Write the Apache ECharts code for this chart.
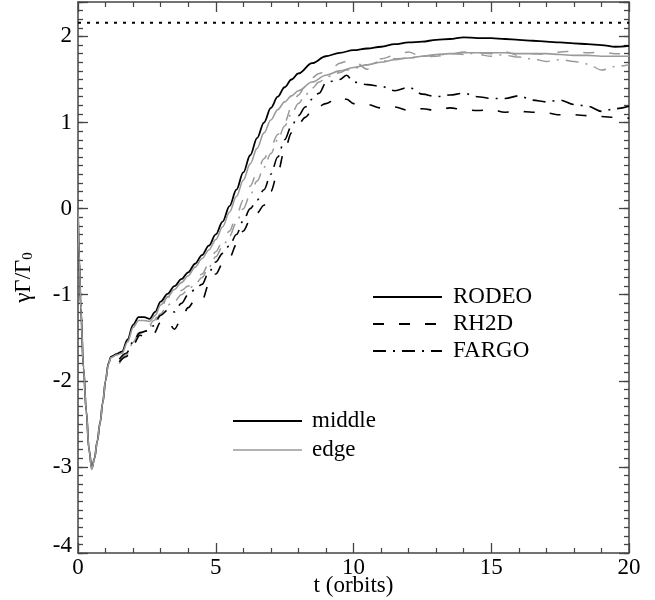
<!DOCTYPE html>
<html>
<head>
<meta charset="utf-8">
<script src="https://cdn.jsdelivr.net/npm/echarts@6/dist/echarts.min.js"></script>
<style>html,body{margin:0;padding:0;background:#fff}#c{width:655px;height:600px}</style>
</head>
<body>
<div id="c"></div>
<script>
// ---- data ----
var tRodeo = [0,0.05,0.1,0.2,0.3,0.4,0.5,0.6,0.7,0.8,0.9,1.0,1.1,1.2,1.4,1.6,1.8,2.0,2.2,2.4,2.6,2.8,3.0,3.25,3.5,3.75,4.0,4.25,4.5,4.75,5.0,5.25,5.5,5.75,6.0,6.25,6.5,6.75,7.0,7.25,7.5,7.75,8.0,8.5,9.0,9.5,10,10.5,11,11.5,12,12.5,13,13.5,14,14.5,15,15.5,16,16.5,17,17.5,18,18.5,19,19.5,20];
var rodeoMiddle = [0.0,-0.6,-1.15,-1.85,-2.35,-2.8,-3.02,-2.9,-2.7,-2.49,-2.25,-2.0,-1.8,-1.72,-1.69,-1.66,-1.52,-1.35,-1.26,-1.26,-1.28,-1.2,-1.08,-0.99,-0.9,-0.82,-0.74,-0.64,-0.54,-0.43,-0.3,-0.15,0.03,0.22,0.42,0.62,0.82,1.0,1.17,1.3,1.41,1.5,1.57,1.69,1.77,1.81,1.84,1.86,1.88,1.91,1.93,1.94,1.96,1.97,1.99,1.98,1.98,1.97,1.96,1.95,1.94,1.93,1.92,1.91,1.90,1.88,1.89];
var rodeoEdge = [0.0,-0.6,-1.15,-1.85,-2.35,-2.8,-3.03,-2.9,-2.7,-2.49,-2.25,-2.0,-1.81,-1.73,-1.70,-1.68,-1.55,-1.38,-1.30,-1.30,-1.31,-1.24,-1.12,-1.03,-0.94,-0.86,-0.78,-0.68,-0.58,-0.48,-0.36,-0.21,-0.04,0.14,0.33,0.52,0.7,0.88,1.03,1.15,1.24,1.31,1.37,1.47,1.55,1.6,1.64,1.67,1.70,1.73,1.75,1.77,1.79,1.80,1.81,1.81,1.81,1.81,1.80,1.80,1.80,1.79,1.78,1.78,1.77,1.77,1.77];
var tOther = [1.5,1.75,2.0,2.25,2.5,2.75,3.0,3.25,3.5,3.75,4.0,4.25,4.5,4.75,5.0,5.25,5.5,5.75,6.0,6.25,6.5,6.75,7.0,7.25,7.5,7.75,8.0,8.25,8.5,8.75,9.0,9.25,9.5,9.75,10,10.5,11,11.5,12,12.5,13,13.5,14,14.5,15,15.5,16,16.5,17,17.5,18,18.5,19,19.5,20];
var rh2dMiddle = [-1.78,-1.72,-1.58,-1.47,-1.50,-1.45,-1.32,-1.30,-1.40,-1.28,-1.15,-1.06,-1.07,-0.88,-0.76,-0.64,-0.57,-0.42,-0.26,-0.13,-0.05,0.04,0.2,0.42,0.68,0.88,0.98,1.06,1.14,1.19,1.22,1.25,1.29,1.27,1.22,1.21,1.17,1.18,1.14,1.16,1.14,1.17,1.15,1.14,1.15,1.12,1.13,1.12,1.11,1.09,1.09,1.08,1.07,1.06,1.05];
var rh2dEdge = [-1.80,-1.70,-1.55,-1.42,-1.40,-1.30,-1.18,-1.02,-1.05,-0.95,-0.9,-0.85,-0.76,-0.64,-0.5,-0.38,-0.26,-0.08,0.1,0.26,0.42,0.58,0.72,0.86,1.0,1.18,1.32,1.42,1.52,1.57,1.6,1.64,1.69,1.71,1.72,1.62,1.74,1.78,1.82,1.76,1.77,1.79,1.82,1.79,1.77,1.82,1.78,1.80,1.79,1.82,1.83,1.81,1.82,1.80,1.79];
var fargoMiddle = [-1.75,-1.68,-1.55,-1.44,-1.42,-1.36,-1.24,-1.18,-1.2,-1.1,-1.0,-0.94,-0.88,-0.74,-0.62,-0.52,-0.43,-0.3,-0.14,0.0,0.1,0.22,0.4,0.6,0.8,0.96,1.08,1.18,1.27,1.34,1.46,1.48,1.5,1.55,1.47,1.44,1.42,1.37,1.41,1.33,1.30,1.32,1.34,1.30,1.28,1.28,1.31,1.26,1.24,1.26,1.21,1.19,1.13,1.16,1.19];
var fargoEdge = [-1.78,-1.70,-1.56,-1.45,-1.42,-1.33,-1.22,-1.12,-1.08,-1.0,-0.94,-0.88,-0.8,-0.68,-0.56,-0.44,-0.32,-0.16,0.0,0.16,0.32,0.48,0.64,0.8,0.96,1.1,1.22,1.32,1.4,1.47,1.52,1.55,1.58,1.61,1.63,1.67,1.71,1.74,1.75,1.77,1.78,1.80,1.79,1.81,1.80,1.78,1.76,1.74,1.71,1.73,1.71,1.68,1.61,1.65,1.67];
var limitValue = 2.16;
var xRange = [0, 20];
var yRange = [-4, 2.4];
var legendCodes = ['RODEO', 'RH2D', 'FARGO'];
var legendZones = ['middle', 'edge'];

// ---- chart ----
var FONT = 'Liberation Serif, Times New Roman, serif';
var BLACK = '#000000';
var GRAY = '#9a9a9a';
var AXIS = '#444444';
var DASH = [11, 15];
var DASHDOT = [13, 7, 2, 7];

function pairs(ts, vs) { return ts.map(function (t, i) { return [t, vs[i]]; }); }
function lineSeries(ts, vs, color, type, width) {
  return {
    type: 'line', data: pairs(ts, vs), xAxisIndex: 0, yAxisIndex: 0,
    symbol: 'none', smooth: 0.35, smoothMonotone: 'x', silent: true,
    lineStyle: { color: color, width: width, type: type }
  };
}

var chart = echarts.init(document.getElementById('c'), null, { renderer: 'canvas' });

function xAx(pos, labels) {
  return {
    type: 'value', position: pos, min: xRange[0], max: xRange[1], interval: 5,
    axisLine: { show: true, onZero: false, lineStyle: { color: AXIS, width: 1.5 } },
    axisTick: { show: true, inside: true, length: 10, lineStyle: { color: AXIS, width: 1.3 } },
    minorTick: { show: true, splitNumber: 5, length: 5, lineStyle: { color: AXIS, width: 1.2 } },
    splitLine: { show: false }, minorSplitLine: { show: false },
    axisLabel: { show: labels, color: '#000', fontFamily: FONT, fontSize: 23, margin: 3 },
    name: labels ? 't (orbits)' : '', nameLocation: 'middle', nameGap: 21, nameMoveOverlap: false,
    nameTextStyle: { color: '#000', fontFamily: FONT, fontSize: 23 }
  };
}
function yAx(pos, interval, tickLen, labels, line) {
  var o = {
    type: 'value', position: pos, offset: 0, min: yRange[0], max: yRange[1], interval: interval,
    axisLine: { show: line, onZero: false, lineStyle: { color: AXIS, width: 1.5 } },
    axisTick: { show: true, inside: true, length: tickLen, lineStyle: { color: AXIS, width: 1.3 } },
    splitLine: { show: false },
    axisLabel: {
      show: labels, color: '#000', fontFamily: FONT, fontSize: 23, margin: 6,
      formatter: function (v) {
        if (Math.abs(v - Math.round(v)) > 1e-6) return '';
        var r = Math.round(v);
        return r === yRange[0] ? '{low|' + r + '}' : String(r);
      },
      rich: { low: { fontFamily: FONT, fontSize: 23, color: '#000', padding: [0, 0, 14, 0] } }
    }
  };
  if (labels) {
    o.name = '{m|γΓ/Γ}{s|0}';
    o.nameLocation = 'middle';
    o.nameRotate = 90;
    o.nameGap = 42;
    o.nameMoveOverlap = false;
    o.nameTextStyle = {
      color: '#000', fontFamily: FONT, fontSize: 23,
      rich: {
        m: { fontFamily: FONT, fontSize: 23, color: '#000' },
        s: { fontFamily: FONT, fontSize: 15, color: '#000', verticalAlign: 'bottom', padding: [10, 0, 0, 0] }
      }
    };
  }
  return o;
}

var legendGraphics = [];
var lgStyles = [[], DASH, DASHDOT];
legendCodes.forEach(function (name, i) {
  var y = 297 + i * 27;
  legendGraphics.push({ type: 'line', shape: { x1: 373, y1: y, x2: 442, y2: y },
    style: { stroke: BLACK, lineWidth: 1.8, lineDash: lgStyles[i].length ? lgStyles[i] : null } });
  legendGraphics.push({ type: 'text', x: 453, y: y,
    style: { text: name, font: '23px ' + FONT, fill: '#000', verticalAlign: 'middle', align: 'left' } });
});
legendZones.forEach(function (name, i) {
  var y = 421 + i * 29;
  legendGraphics.push({ type: 'line', shape: { x1: 233, y1: y, x2: 302, y2: y },
    style: { stroke: i === 0 ? BLACK : GRAY, lineWidth: i === 0 ? 1.8 : 1.6 } });
  legendGraphics.push({ type: 'text', x: 312, y: y,
    style: { text: name, font: '23px ' + FONT, fill: '#000', verticalAlign: 'middle', align: 'left' } });
});

chart.setOption({
  animation: false,
  backgroundColor: '#fff',
  grid: { left: 78, right: 26, top: 2, bottom: 47, containLabel: false, outerBoundsMode: 'none' },
  xAxis: [xAx('bottom', true), xAx('top', false)],
  yAxis: [
    yAx('left', 1, 10, true, true),
    yAx('left', 0.1, 5, false, false),
    yAx('right', 1, 10, false, true),
    yAx('right', 0.1, 5, false, false)
  ],
  series: [
    {
      type: 'line', data: [[xRange[0], limitValue], [xRange[1], limitValue]],
      symbol: 'none', silent: true, lineStyle: { color: BLACK, width: 2, type: [3, 6] }
    },
    lineSeries(tOther, rh2dEdge, GRAY, DASH, 1.5),
    lineSeries(tOther, fargoEdge, GRAY, DASHDOT, 1.5),
    lineSeries(tOther, rh2dMiddle, BLACK, DASH, 1.6),
    lineSeries(tOther, fargoMiddle, BLACK, DASHDOT, 1.6),
    lineSeries(tRodeo, rodeoMiddle, BLACK, 'solid', 1.8),
    lineSeries(tRodeo, rodeoEdge, GRAY, 'solid', 1.6)
  ],
  graphic: legendGraphics
});
</script>
</body>
</html>
